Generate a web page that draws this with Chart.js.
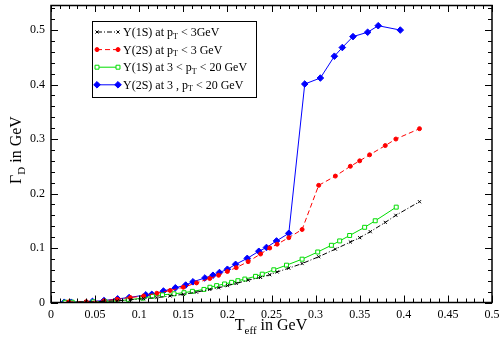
<!DOCTYPE html>
<html lang="en">
<head>
<meta charset="UTF-8">
<title>Gamma_D vs T_eff</title>
<script src="https://cdn.jsdelivr.net/npm/chart.js"></script>
<style>
  body { margin: 0; background: #fff; }
  #box { width: 499px; height: 345px; }
</style>
</head>
<body>
<div id="box"><canvas id="grafico"></canvas></div>
<script>
// tick labels
const xTicks = [0, 0.05, 0.1, 0.15, 0.2, 0.25, 0.3, 0.35, 0.4, 0.45, 0.5];
const yTicks = [0, 0.1, 0.2, 0.3, 0.4, 0.5];

// Y(1S), pT < 3 GeV
const teff1sLow = [0.02, 0.04, 0.06, 0.075, 0.09, 0.105, 0.12, 0.135, 0.15, 0.165, 0.18, 0.19, 0.2, 0.21, 0.2235, 0.2376, 0.248, 0.2564, 0.2696, 0.2847, 0.3035, 0.3224, 0.3394, 0.35, 0.362, 0.379, 0.391, 0.4178];
const gamma1sLow = [0.0005, 0.001, 0.002, 0.003, 0.005, 0.007, 0.009, 0.012, 0.015, 0.019, 0.024, 0.027, 0.031, 0.035, 0.041, 0.046, 0.051, 0.056, 0.063, 0.0715, 0.084, 0.098, 0.111, 0.119, 0.130, 0.147, 0.160, 0.185];

// Y(2S), pT < 3 GeV
const teff2sLow = [0.02, 0.04, 0.06, 0.075, 0.09, 0.105, 0.12, 0.135, 0.15, 0.165, 0.18, 0.19, 0.2, 0.21, 0.2235, 0.2376, 0.248, 0.2564, 0.2696, 0.2847, 0.3035, 0.3224, 0.3394, 0.35, 0.3612, 0.379, 0.391, 0.4178];
const gamma2sLow = [0.001, 0.0015, 0.003, 0.006, 0.009, 0.012, 0.017, 0.022, 0.028, 0.036, 0.044, 0.050, 0.057, 0.064, 0.075, 0.089, 0.100, 0.107, 0.119, 0.134, 0.215, 0.232, 0.250, 0.260, 0.271, 0.288, 0.300, 0.319];

// Y(1S), 3 < pT < 20 GeV
const teff1sHigh = [0.016, 0.024, 0.048, 0.061, 0.075, 0.088, 0.104, 0.115, 0.1264, 0.1395, 0.1508, 0.1603, 0.1734, 0.1802, 0.1878, 0.1968, 0.2048, 0.2119, 0.2198, 0.2319, 0.2395, 0.2526, 0.267, 0.2847, 0.3024, 0.3179, 0.3273, 0.3386, 0.3556, 0.3676, 0.3914];
const gamma1sHigh = [0.0005, 0.0006, 0.0012, 0.002, 0.003, 0.005, 0.008, 0.0115, 0.014, 0.016, 0.018, 0.0205, 0.024, 0.028, 0.031, 0.034, 0.037, 0.040, 0.043, 0.048, 0.052, 0.060, 0.0685, 0.0795, 0.0927, 0.105, 0.113, 0.123, 0.138, 0.150, 0.175];

// Y(2S), 3 < pT < 20 GeV
const teff2sHigh = [0.015, 0.023, 0.047, 0.060, 0.0755, 0.0886, 0.1075, 0.1143, 0.1275, 0.141, 0.1527, 0.161, 0.1745, 0.1836, 0.191, 0.200, 0.2093, 0.2225, 0.2356, 0.2443, 0.2557, 0.2696, 0.2877, 0.3054, 0.3213, 0.3303, 0.3424, 0.359, 0.371, 0.396];
const gamma2sHigh = [0.0005, 0.0005, 0.002, 0.0036, 0.0067, 0.0091, 0.014, 0.015, 0.021, 0.027, 0.032, 0.038, 0.045, 0.050, 0.055, 0.061, 0.070, 0.081, 0.094, 0.101, 0.113, 0.127, 0.401, 0.412, 0.452, 0.468, 0.488, 0.496, 0.508, 0.500];

// legend text, pieces marked 1 are subscripts
const legendLabels = [
    [['Υ(1S) at p'], ['T', 1], [' < 3GeV']],
    [['Υ(2S) at p'], ['T', 1], [' < 3 GeV']],
    [['Υ(1S) at 3 < p'], ['T', 1], [' < 20 GeV']],
    [['Υ(2S) at 3 , p'], ['T', 1], [' < 20 GeV']]
];
const xTitle = [['T'], ['eff', 1], [' in GeV']];
const yTitle = [['Γ'], ['D', 1], [' in GeV']];

const SERIF = '"Liberation Serif", "DejaVu Serif", serif';

function pts(xs, ys) {
    return xs.map((v, i) => ({ x: v, y: ys[i] }));
}

function richWidth(ctx, parts, size) {
    let w = 0;
    parts.forEach(p => {
        ctx.font = (p[1] ? Math.round(size * 0.7) : size) + 'px ' + SERIF;
        w += ctx.measureText(p[0]).width;
    });
    return w;
}

function drawRich(ctx, parts, x, y, size) {
    parts.forEach(p => {
        const sub = p[1];
        ctx.font = (sub ? Math.round(size * 0.7) : size) + 'px ' + SERIF;
        ctx.fillText(p[0], x, sub ? y + size * 0.3 : y);
        x += ctx.measureText(p[0]).width;
    });
}

function line(ctx, x1, y1, x2, y2) {
    ctx.beginPath();
    ctx.moveTo(x1, y1);
    ctx.lineTo(x2, y2);
    ctx.stroke();
}

const framePlugin = {
    id: 'frame',
    afterDraw(chart) {
        const { ctx, chartArea: a, scales: { x, y } } = chart;
        ctx.save();
        ctx.strokeStyle = '#000';
        ctx.lineWidth = 1;

        // inward ticks on all four sides
        for (let i = 0; i <= 50; i++) {
            const px = Math.round(x.getPixelForValue(i * 0.01)) + 0.5;
            const len = i % 5 === 0 ? 7 : 4;
            line(ctx, px, a.bottom, px, a.bottom - len);
            line(ctx, px, a.top, px, a.top + len);
        }
        for (let i = 0; i <= 27; i++) {
            const py = Math.round(y.getPixelForValue(i * 0.02)) + 0.5;
            const len = i % 5 === 0 ? 7 : 4;
            line(ctx, a.left, py, a.left + len, py);
            line(ctx, a.right, py, a.right - len, py);
        }
        ctx.lineWidth = 1.5;
        ctx.strokeRect(a.left, a.top + 0.5, a.right - a.left, a.bottom - a.top - 0.5);

        // axis titles
        ctx.fillStyle = '#000';
        ctx.textBaseline = 'middle';
        ctx.textAlign = 'left';
        const wx = richWidth(ctx, xTitle, 16);
        drawRich(ctx, xTitle, 271 - wx / 2, 326, 16);

        ctx.save();
        ctx.translate(17, 150);
        ctx.rotate(-Math.PI / 2);
        const wy = richWidth(ctx, yTitle, 16);
        drawRich(ctx, yTitle, -wy / 2, 0, 16);
        ctx.restore();

        // legend
        ctx.lineWidth = 1;
        ctx.fillStyle = '#fff';
        ctx.fillRect(92, 21, 164, 76);
        ctx.strokeRect(92.5, 21.5, 164, 76);
        chart.data.datasets.forEach((ds, i) => {
            const ly = 32 + i * 17.6;
            ctx.strokeStyle = ds.borderColor;
            ctx.lineWidth = 1;
            ctx.setLineDash(ds.borderDash || []);
            line(ctx, 97, ly, 118, ly);
            ctx.setLineDash([]);
            [97, 118].forEach(mx => {
                ctx.fillStyle = ds.pointBackgroundColor;
                ctx.strokeStyle = ds.borderColor;
                Chart.helpers.drawPoint(ctx, {
                    pointStyle: ds.pointStyle,
                    radius: ds.pointRadius,
                    rotation: 0,
                    borderWidth: 1
                }, mx, ly);
            });
            ctx.fillStyle = '#000';
            drawRich(ctx, legendLabels[i], 123, ly + 1, 12);
        });
        ctx.restore();
    }
};

const ctx = document.getElementById('grafico').getContext('2d');
const chart = new Chart(ctx, {
    type: 'line',
    data: {
        datasets: [
            {
                data: pts(teff1sLow, gamma1sLow),
                borderColor: '#000',
                borderWidth: 1,
                borderDash: [5, 2, 1, 2],
                pointStyle: 'crossRot',
                pointRadius: 2.2,
                pointBorderWidth: 1,
                pointBackgroundColor: '#000'
            },
            {
                data: pts(teff2sLow, gamma2sLow),
                borderColor: '#ff0000',
                borderWidth: 1,
                borderDash: [5, 3],
                pointStyle: 'circle',
                pointRadius: 2,
                pointBorderWidth: 1,
                pointBackgroundColor: '#ff0000'
            },
            {
                data: pts(teff1sHigh, gamma1sHigh),
                borderColor: '#00dd00',
                borderWidth: 1,
                pointStyle: 'rect',
                pointRadius: 2.8,
                pointBorderWidth: 1,
                pointBackgroundColor: '#ffffff'
            },
            {
                data: pts(teff2sHigh, gamma2sHigh),
                borderColor: '#0000ff',
                borderWidth: 1,
                pointStyle: 'rectRot',
                pointRadius: 3.3,
                pointBorderWidth: 1,
                pointBackgroundColor: '#0000ff'
            }
        ]
    },
    options: {
        responsive: true,
        maintainAspectRatio: false,
        animation: false,
        layout: { padding: { top: 0, right: 7, left: 0, bottom: 0 } },
        plugins: {
            legend: { display: false },
            tooltip: { enabled: false }
        },
        scales: {
            x: {
                type: 'linear',
                min: 0,
                max: 0.5,
                grid: { display: false, drawTicks: false },
                border: { display: false },
                afterBuildTicks: s => { s.ticks = xTicks.map(v => ({ value: v })); },
                afterFit: s => { s.height = 42.5; s.paddingLeft = 0; s.paddingRight = 0; },
                ticks: {
                    padding: 5,
                    maxRotation: 0,
                    color: '#000',
                    font: { family: SERIF, size: 12 },
                    callback: v => String(+v.toFixed(2))
                }
            },
            y: {
                min: 0,
                max: 0.546,
                grid: { display: false, drawTicks: false },
                border: { display: false },
                afterBuildTicks: s => { s.ticks = yTicks.map(v => ({ value: v })); },
                afterFit: s => { s.width = 51; s.paddingTop = 0; s.paddingBottom = 0; },
                ticks: {
                    padding: 6,
                    color: '#000',
                    font: { family: SERIF, size: 12 },
                    callback: v => String(+v.toFixed(2))
                }
            }
        }
    },
    plugins: [framePlugin]
});
</script>
</body>
</html>
